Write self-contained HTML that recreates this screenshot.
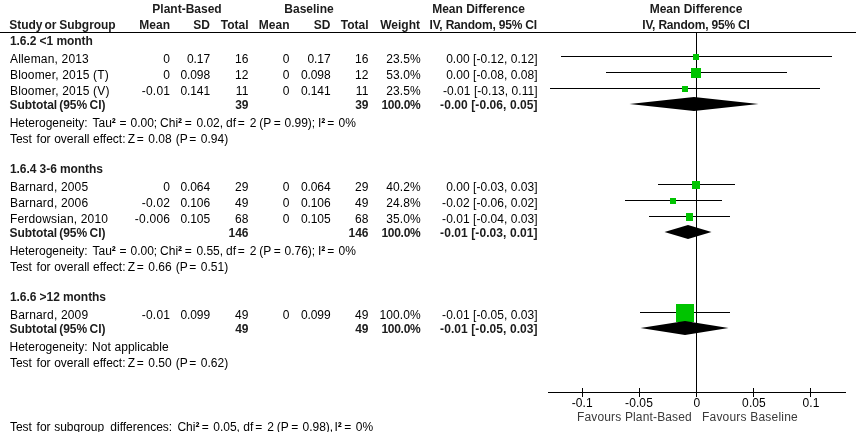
<!DOCTYPE html>
<html><head><meta charset="utf-8"><title>Forest plot</title>
<style>
html,body{margin:0;padding:0;background:#fff;}
body{width:856px;height:432px;position:relative;overflow:hidden;font-family:"Liberation Sans",sans-serif;font-size:12px;color:#000;}
.t{position:absolute;white-space:pre;line-height:14px;height:14px;}
svg{position:absolute;left:0;top:0;}
#txt{position:absolute;left:0;top:0;width:856px;height:432px;will-change:transform;}
</style></head><body>
<svg width="856" height="432" viewBox="0 0 856 432" shape-rendering="crispEdges">
<rect x="0" y="32" width="856" height="1" fill="#000"/>
<rect x="696" y="32" width="1" height="360" fill="#000"/>
<rect x="548" y="392" width="298" height="1" fill="#000"/>
<rect x="582" y="388" width="1" height="9" fill="#000"/>
<rect x="639" y="388" width="1" height="9" fill="#000"/>
<rect x="696" y="388" width="1" height="9" fill="#000"/>
<rect x="753" y="388" width="1" height="9" fill="#000"/>
<rect x="810" y="388" width="1" height="9" fill="#000"/>
<rect x="561" y="56" width="271" height="1" fill="#000"/>
<rect x="606" y="72" width="181" height="1" fill="#000"/>
<rect x="550" y="88" width="270" height="1" fill="#000"/>
<rect x="658" y="184" width="77" height="1" fill="#000"/>
<rect x="625" y="200" width="97" height="1" fill="#000"/>
<rect x="649" y="216" width="81" height="1" fill="#000"/>
<rect x="640" y="312" width="90" height="1" fill="#000"/>
<rect x="693" y="54" width="6" height="6" fill="#00c400"/>
<rect x="691" y="68" width="10" height="10" fill="#00c400"/>
<rect x="682" y="86" width="6" height="6" fill="#00c400"/>
<rect x="692" y="181" width="8" height="8" fill="#00c400"/>
<rect x="670" y="198" width="6" height="6" fill="#00c400"/>
<rect x="686" y="213" width="7" height="8" fill="#00c400"/>
<rect x="676" y="304" width="18" height="18" fill="#00c400"/>
<polygon shape-rendering="geometricPrecision" points="629.5,104 694,97 758.5,104 694,111" fill="#000"/>
<polygon shape-rendering="geometricPrecision" points="664.5,232 688,225 711.5,232 688,239" fill="#000"/>
<polygon shape-rendering="geometricPrecision" points="640.5,328 685,321 728.5,328 685,335" fill="#000"/>
</svg>
<div id="txt">
<div class="t" style="top:2px;left:37px;width:300px;text-align:center;font-weight:bold;color:#1c1c1c;">Plant-Based</div>
<div class="t" style="top:2px;left:159px;width:300px;text-align:center;font-weight:bold;color:#1c1c1c;">Baseline</div>
<div class="t" style="top:2px;left:328.5px;width:300px;text-align:center;font-weight:bold;color:#1c1c1c;">Mean Difference</div>
<div class="t" style="top:2px;left:546px;width:300px;text-align:center;font-weight:bold;color:#1c1c1c;">Mean Difference</div>
<div class="t" style="top:18px;left:9.35px;font-weight:bold;color:#1c1c1c;letter-spacing:-0.05px;">Study</div>
<div class="t" style="top:18px;left:44.58px;font-weight:bold;color:#1c1c1c;letter-spacing:-0.05px;">or</div>
<div class="t" style="top:18px;left:59.35px;font-weight:bold;color:#1c1c1c;letter-spacing:-0.05px;">Subgroup</div>
<div class="t" style="top:18px;left:-130px;width:300px;text-align:right;font-weight:bold;color:#1c1c1c;">Mean</div>
<div class="t" style="top:18px;left:-90px;width:300px;text-align:right;font-weight:bold;color:#1c1c1c;">SD</div>
<div class="t" style="top:18px;left:-51.5px;width:300px;text-align:right;font-weight:bold;color:#1c1c1c;">Total</div>
<div class="t" style="top:18px;left:-10.5px;width:300px;text-align:right;font-weight:bold;color:#1c1c1c;">Mean</div>
<div class="t" style="top:18px;left:30.5px;width:300px;text-align:right;font-weight:bold;color:#1c1c1c;">SD</div>
<div class="t" style="top:18px;left:68.5px;width:300px;text-align:right;font-weight:bold;color:#1c1c1c;">Total</div>
<div class="t" style="top:18px;left:120px;width:300px;text-align:right;font-weight:bold;color:#1c1c1c;">Weight</div>
<div class="t" style="top:18px;left:237px;width:300px;text-align:right;font-weight:bold;color:#1c1c1c;letter-spacing:-0.19px;">IV, Random, 95% CI</div>
<div class="t" style="top:18px;left:546px;width:300px;text-align:center;font-weight:bold;color:#1c1c1c;letter-spacing:-0.19px;">IV, Random, 95% CI</div>
<div class="t" style="top:34px;left:10px;font-weight:bold;color:#1c1c1c;letter-spacing:-0.07px;">1.6.2 &lt;1 month</div>
<div class="t" style="top:52px;left:10px;letter-spacing:0.17px;">Alleman, 2013</div>
<div class="t" style="top:52px;left:-129.75px;width:300px;text-align:right;letter-spacing:0.25px;">0</div>
<div class="t" style="top:52px;left:-90px;width:300px;text-align:right;letter-spacing:-0.1px;">0.17</div>
<div class="t" style="top:52px;left:-51.25px;width:300px;text-align:right;letter-spacing:0.25px;">16</div>
<div class="t" style="top:52px;left:-10.25px;width:300px;text-align:right;letter-spacing:0.25px;">0</div>
<div class="t" style="top:52px;left:30.5px;width:300px;text-align:right;letter-spacing:-0.1px;">0.17</div>
<div class="t" style="top:52px;left:68.75px;width:300px;text-align:right;letter-spacing:0.25px;">16</div>
<div class="t" style="top:52px;left:120.69999999999999px;width:300px;text-align:right;letter-spacing:0.1px;">23.5%</div>
<div class="t" style="top:52px;left:237.60000000000002px;width:300px;text-align:right;letter-spacing:0.04px;">0.00 [-0.12, 0.12]</div>
<div class="t" style="top:68px;left:10px;letter-spacing:0.17px;">Bloomer, 2015 (T)</div>
<div class="t" style="top:68px;left:-129.75px;width:300px;text-align:right;letter-spacing:0.25px;">0</div>
<div class="t" style="top:68px;left:-90px;width:300px;text-align:right;letter-spacing:-0.1px;">0.098</div>
<div class="t" style="top:68px;left:-51.25px;width:300px;text-align:right;letter-spacing:0.25px;">12</div>
<div class="t" style="top:68px;left:-10.25px;width:300px;text-align:right;letter-spacing:0.25px;">0</div>
<div class="t" style="top:68px;left:30.5px;width:300px;text-align:right;letter-spacing:-0.1px;">0.098</div>
<div class="t" style="top:68px;left:68.75px;width:300px;text-align:right;letter-spacing:0.25px;">12</div>
<div class="t" style="top:68px;left:120.69999999999999px;width:300px;text-align:right;letter-spacing:0.1px;">53.0%</div>
<div class="t" style="top:68px;left:237.60000000000002px;width:300px;text-align:right;letter-spacing:0.04px;">0.00 [-0.08, 0.08]</div>
<div class="t" style="top:84px;left:10px;letter-spacing:0.17px;">Bloomer, 2015 (V)</div>
<div class="t" style="top:84px;left:-129.75px;width:300px;text-align:right;letter-spacing:0.25px;">-0.01</div>
<div class="t" style="top:84px;left:-90px;width:300px;text-align:right;letter-spacing:-0.1px;">0.141</div>
<div class="t" style="top:84px;left:-51.25px;width:300px;text-align:right;letter-spacing:0.25px;">11</div>
<div class="t" style="top:84px;left:-10.25px;width:300px;text-align:right;letter-spacing:0.25px;">0</div>
<div class="t" style="top:84px;left:30.5px;width:300px;text-align:right;letter-spacing:-0.1px;">0.141</div>
<div class="t" style="top:84px;left:68.75px;width:300px;text-align:right;letter-spacing:0.25px;">11</div>
<div class="t" style="top:84px;left:120.69999999999999px;width:300px;text-align:right;letter-spacing:0.1px;">23.5%</div>
<div class="t" style="top:84px;left:237.60000000000002px;width:300px;text-align:right;letter-spacing:0.04px;">-0.01 [-0.13, 0.11]</div>
<div class="t" style="top:98px;left:9.55px;font-weight:bold;color:#1c1c1c;letter-spacing:-0.05px;">Subtotal</div>
<div class="t" style="top:98px;left:59.27px;font-weight:bold;color:#1c1c1c;letter-spacing:-0.05px;">(95%</div>
<div class="t" style="top:98px;left:89.6px;font-weight:bold;color:#1c1c1c;letter-spacing:-0.05px;">CI)</div>
<div class="t" style="top:98px;left:-51.5px;width:300px;text-align:right;font-weight:bold;color:#1c1c1c;">39</div>
<div class="t" style="top:98px;left:68.5px;width:300px;text-align:right;font-weight:bold;color:#1c1c1c;">39</div>
<div class="t" style="top:98px;left:120.39999999999998px;width:300px;text-align:right;font-weight:bold;color:#1c1c1c;letter-spacing:-0.3px;">100.0%</div>
<div class="t" style="top:98px;left:237.70000000000005px;width:300px;text-align:right;font-weight:bold;color:#1c1c1c;letter-spacing:0.08px;">-0.00 [-0.06, 0.05]</div>
<div class="t" style="top:116px;left:9.64px;">Heterogeneity:</div>
<div class="t" style="top:116px;left:92.47px;">Tau<b>²</b></div>
<div class="t" style="top:116px;left:119.53px;">=</div>
<div class="t" style="top:116px;left:130.5px;">0.00;</div>
<div class="t" style="top:116px;left:160.1px;">Chi<b>²</b></div>
<div class="t" style="top:116px;left:184.73px;">=</div>
<div class="t" style="top:116px;left:196.4px;">0.02,</div>
<div class="t" style="top:116px;left:226.09px;">df</div>
<div class="t" style="top:116px;left:237.83px;">=</div>
<div class="t" style="top:116px;left:249.64px;">2</div>
<div class="t" style="top:116px;left:259.27px;">(P</div>
<div class="t" style="top:116px;left:273.83px;">=</div>
<div class="t" style="top:116px;left:284.5px;">0.99);</div>
<div class="t" style="top:116px;left:317.88px;">I<b>²</b></div>
<div class="t" style="top:116px;left:327.13px;">=</div>
<div class="t" style="top:116px;left:338.5px;">0%</div>
<div class="t" style="top:132px;left:9.92px;">Test</div>
<div class="t" style="top:132px;left:36.59px;">for</div>
<div class="t" style="top:132px;left:54.18px;">overall</div>
<div class="t" style="top:132px;left:93.06px;">effect:</div>
<div class="t" style="top:132px;left:127.65px;">Z</div>
<div class="t" style="top:132px;left:136.83px;">=</div>
<div class="t" style="top:132px;left:148.25px;">0.08</div>
<div class="t" style="top:132px;left:175.77px;">(P</div>
<div class="t" style="top:132px;left:189.33px;">=</div>
<div class="t" style="top:132px;left:200.8px;">0.94)</div>
<div class="t" style="top:162px;left:10px;font-weight:bold;color:#1c1c1c;letter-spacing:-0.07px;">1.6.4 3-6 months</div>
<div class="t" style="top:180px;left:10px;letter-spacing:0.17px;">Barnard, 2005</div>
<div class="t" style="top:180px;left:-129.75px;width:300px;text-align:right;letter-spacing:0.25px;">0</div>
<div class="t" style="top:180px;left:-90px;width:300px;text-align:right;letter-spacing:-0.1px;">0.064</div>
<div class="t" style="top:180px;left:-51.25px;width:300px;text-align:right;letter-spacing:0.25px;">29</div>
<div class="t" style="top:180px;left:-10.25px;width:300px;text-align:right;letter-spacing:0.25px;">0</div>
<div class="t" style="top:180px;left:30.5px;width:300px;text-align:right;letter-spacing:-0.1px;">0.064</div>
<div class="t" style="top:180px;left:68.75px;width:300px;text-align:right;letter-spacing:0.25px;">29</div>
<div class="t" style="top:180px;left:120.69999999999999px;width:300px;text-align:right;letter-spacing:0.1px;">40.2%</div>
<div class="t" style="top:180px;left:237.60000000000002px;width:300px;text-align:right;letter-spacing:0.04px;">0.00 [-0.03, 0.03]</div>
<div class="t" style="top:196px;left:10px;letter-spacing:0.17px;">Barnard, 2006</div>
<div class="t" style="top:196px;left:-129.75px;width:300px;text-align:right;letter-spacing:0.25px;">-0.02</div>
<div class="t" style="top:196px;left:-90px;width:300px;text-align:right;letter-spacing:-0.1px;">0.106</div>
<div class="t" style="top:196px;left:-51.25px;width:300px;text-align:right;letter-spacing:0.25px;">49</div>
<div class="t" style="top:196px;left:-10.25px;width:300px;text-align:right;letter-spacing:0.25px;">0</div>
<div class="t" style="top:196px;left:30.5px;width:300px;text-align:right;letter-spacing:-0.1px;">0.106</div>
<div class="t" style="top:196px;left:68.75px;width:300px;text-align:right;letter-spacing:0.25px;">49</div>
<div class="t" style="top:196px;left:120.69999999999999px;width:300px;text-align:right;letter-spacing:0.1px;">24.8%</div>
<div class="t" style="top:196px;left:237.60000000000002px;width:300px;text-align:right;letter-spacing:0.04px;">-0.02 [-0.06, 0.02]</div>
<div class="t" style="top:212px;left:10px;letter-spacing:0.17px;">Ferdowsian, 2010</div>
<div class="t" style="top:212px;left:-129.75px;width:300px;text-align:right;letter-spacing:0.25px;">-0.006</div>
<div class="t" style="top:212px;left:-90px;width:300px;text-align:right;letter-spacing:-0.1px;">0.105</div>
<div class="t" style="top:212px;left:-51.25px;width:300px;text-align:right;letter-spacing:0.25px;">68</div>
<div class="t" style="top:212px;left:-10.25px;width:300px;text-align:right;letter-spacing:0.25px;">0</div>
<div class="t" style="top:212px;left:30.5px;width:300px;text-align:right;letter-spacing:-0.1px;">0.105</div>
<div class="t" style="top:212px;left:68.75px;width:300px;text-align:right;letter-spacing:0.25px;">68</div>
<div class="t" style="top:212px;left:120.69999999999999px;width:300px;text-align:right;letter-spacing:0.1px;">35.0%</div>
<div class="t" style="top:212px;left:237.60000000000002px;width:300px;text-align:right;letter-spacing:0.04px;">-0.01 [-0.04, 0.03]</div>
<div class="t" style="top:226px;left:9.55px;font-weight:bold;color:#1c1c1c;letter-spacing:-0.05px;">Subtotal</div>
<div class="t" style="top:226px;left:59.27px;font-weight:bold;color:#1c1c1c;letter-spacing:-0.05px;">(95%</div>
<div class="t" style="top:226px;left:89.6px;font-weight:bold;color:#1c1c1c;letter-spacing:-0.05px;">CI)</div>
<div class="t" style="top:226px;left:-51.5px;width:300px;text-align:right;font-weight:bold;color:#1c1c1c;">146</div>
<div class="t" style="top:226px;left:68.5px;width:300px;text-align:right;font-weight:bold;color:#1c1c1c;">146</div>
<div class="t" style="top:226px;left:120.39999999999998px;width:300px;text-align:right;font-weight:bold;color:#1c1c1c;letter-spacing:-0.3px;">100.0%</div>
<div class="t" style="top:226px;left:237.70000000000005px;width:300px;text-align:right;font-weight:bold;color:#1c1c1c;letter-spacing:0.08px;">-0.01 [-0.03, 0.01]</div>
<div class="t" style="top:244px;left:9.64px;">Heterogeneity:</div>
<div class="t" style="top:244px;left:92.47px;">Tau<b>²</b></div>
<div class="t" style="top:244px;left:119.53px;">=</div>
<div class="t" style="top:244px;left:130.5px;">0.00;</div>
<div class="t" style="top:244px;left:160.1px;">Chi<b>²</b></div>
<div class="t" style="top:244px;left:184.73px;">=</div>
<div class="t" style="top:244px;left:196.4px;">0.55,</div>
<div class="t" style="top:244px;left:226.09px;">df</div>
<div class="t" style="top:244px;left:237.83px;">=</div>
<div class="t" style="top:244px;left:249.64px;">2</div>
<div class="t" style="top:244px;left:259.27px;">(P</div>
<div class="t" style="top:244px;left:273.83px;">=</div>
<div class="t" style="top:244px;left:284.5px;">0.76);</div>
<div class="t" style="top:244px;left:317.88px;">I<b>²</b></div>
<div class="t" style="top:244px;left:327.13px;">=</div>
<div class="t" style="top:244px;left:338.5px;">0%</div>
<div class="t" style="top:260px;left:9.92px;">Test</div>
<div class="t" style="top:260px;left:36.59px;">for</div>
<div class="t" style="top:260px;left:54.18px;">overall</div>
<div class="t" style="top:260px;left:93.06px;">effect:</div>
<div class="t" style="top:260px;left:127.65px;">Z</div>
<div class="t" style="top:260px;left:136.83px;">=</div>
<div class="t" style="top:260px;left:148.25px;">0.66</div>
<div class="t" style="top:260px;left:175.77px;">(P</div>
<div class="t" style="top:260px;left:189.33px;">=</div>
<div class="t" style="top:260px;left:200.8px;">0.51)</div>
<div class="t" style="top:290px;left:10px;font-weight:bold;color:#1c1c1c;letter-spacing:-0.07px;">1.6.6 &gt;12 months</div>
<div class="t" style="top:308px;left:10px;letter-spacing:0.17px;">Barnard, 2009</div>
<div class="t" style="top:308px;left:-129.75px;width:300px;text-align:right;letter-spacing:0.25px;">-0.01</div>
<div class="t" style="top:308px;left:-90px;width:300px;text-align:right;letter-spacing:-0.1px;">0.099</div>
<div class="t" style="top:308px;left:-51.25px;width:300px;text-align:right;letter-spacing:0.25px;">49</div>
<div class="t" style="top:308px;left:-10.25px;width:300px;text-align:right;letter-spacing:0.25px;">0</div>
<div class="t" style="top:308px;left:30.5px;width:300px;text-align:right;letter-spacing:-0.1px;">0.099</div>
<div class="t" style="top:308px;left:68.75px;width:300px;text-align:right;letter-spacing:0.25px;">49</div>
<div class="t" style="top:308px;left:120.69999999999999px;width:300px;text-align:right;letter-spacing:0.1px;">100.0%</div>
<div class="t" style="top:308px;left:237.60000000000002px;width:300px;text-align:right;letter-spacing:0.04px;">-0.01 [-0.05, 0.03]</div>
<div class="t" style="top:322px;left:9.55px;font-weight:bold;color:#1c1c1c;letter-spacing:-0.05px;">Subtotal</div>
<div class="t" style="top:322px;left:59.27px;font-weight:bold;color:#1c1c1c;letter-spacing:-0.05px;">(95%</div>
<div class="t" style="top:322px;left:89.6px;font-weight:bold;color:#1c1c1c;letter-spacing:-0.05px;">CI)</div>
<div class="t" style="top:322px;left:-51.5px;width:300px;text-align:right;font-weight:bold;color:#1c1c1c;">49</div>
<div class="t" style="top:322px;left:68.5px;width:300px;text-align:right;font-weight:bold;color:#1c1c1c;">49</div>
<div class="t" style="top:322px;left:120.39999999999998px;width:300px;text-align:right;font-weight:bold;color:#1c1c1c;letter-spacing:-0.3px;">100.0%</div>
<div class="t" style="top:322px;left:237.70000000000005px;width:300px;text-align:right;font-weight:bold;color:#1c1c1c;letter-spacing:0.08px;">-0.01 [-0.05, 0.03]</div>
<div class="t" style="top:340px;left:9.54px;">Heterogeneity:</div>
<div class="t" style="top:340px;left:92.09px;">Not</div>
<div class="t" style="top:340px;left:114.57px;">applicable</div>
<div class="t" style="top:356px;left:9.92px;">Test</div>
<div class="t" style="top:356px;left:36.59px;">for</div>
<div class="t" style="top:356px;left:54.18px;">overall</div>
<div class="t" style="top:356px;left:93.06px;">effect:</div>
<div class="t" style="top:356px;left:127.65px;">Z</div>
<div class="t" style="top:356px;left:136.83px;">=</div>
<div class="t" style="top:356px;left:148.25px;">0.50</div>
<div class="t" style="top:356px;left:175.77px;">(P</div>
<div class="t" style="top:356px;left:189.33px;">=</div>
<div class="t" style="top:356px;left:200.8px;">0.62)</div>
<div class="t" style="top:420px;left:9.92px;">Test</div>
<div class="t" style="top:420px;left:36.59px;">for</div>
<div class="t" style="top:420px;left:54.13px;">subgroup</div>
<div class="t" style="top:420px;left:110.34px;">differences:</div>
<div class="t" style="top:420px;left:177.4px;">Chi<b>²</b></div>
<div class="t" style="top:420px;left:201.83px;">=</div>
<div class="t" style="top:420px;left:213.25px;">0.05,</div>
<div class="t" style="top:420px;left:243.34px;">df</div>
<div class="t" style="top:420px;left:255.33px;">=</div>
<div class="t" style="top:420px;left:267.14px;">2</div>
<div class="t" style="top:420px;left:276.77px;">(P</div>
<div class="t" style="top:420px;left:291.33px;">=</div>
<div class="t" style="top:420px;left:302.5px;">0.98),</div>
<div class="t" style="top:420px;left:334.38px;">I<b>²</b></div>
<div class="t" style="top:420px;left:344.33px;">=</div>
<div class="t" style="top:420px;left:355.75px;">0%</div>
<div class="t" style="top:396px;left:432.29999999999995px;width:300px;text-align:center;letter-spacing:0.1px;">-0.1</div>
<div class="t" style="top:396px;left:489px;width:300px;text-align:center;letter-spacing:0.1px;">-0.05</div>
<div class="t" style="top:396px;left:547px;width:300px;text-align:center;letter-spacing:0.1px;">0</div>
<div class="t" style="top:396px;left:604px;width:300px;text-align:center;letter-spacing:0.1px;">0.05</div>
<div class="t" style="top:396px;left:661px;width:300px;text-align:center;letter-spacing:0.1px;">0.1</div>
<div class="t" style="top:410px;left:577px;letter-spacing:0.15px;color:#3a3a3a;">Favours Plant-Based</div>
<div class="t" style="top:410px;left:702px;letter-spacing:0.2px;color:#3a3a3a;">Favours Baseline</div>
</div>
</body></html>
